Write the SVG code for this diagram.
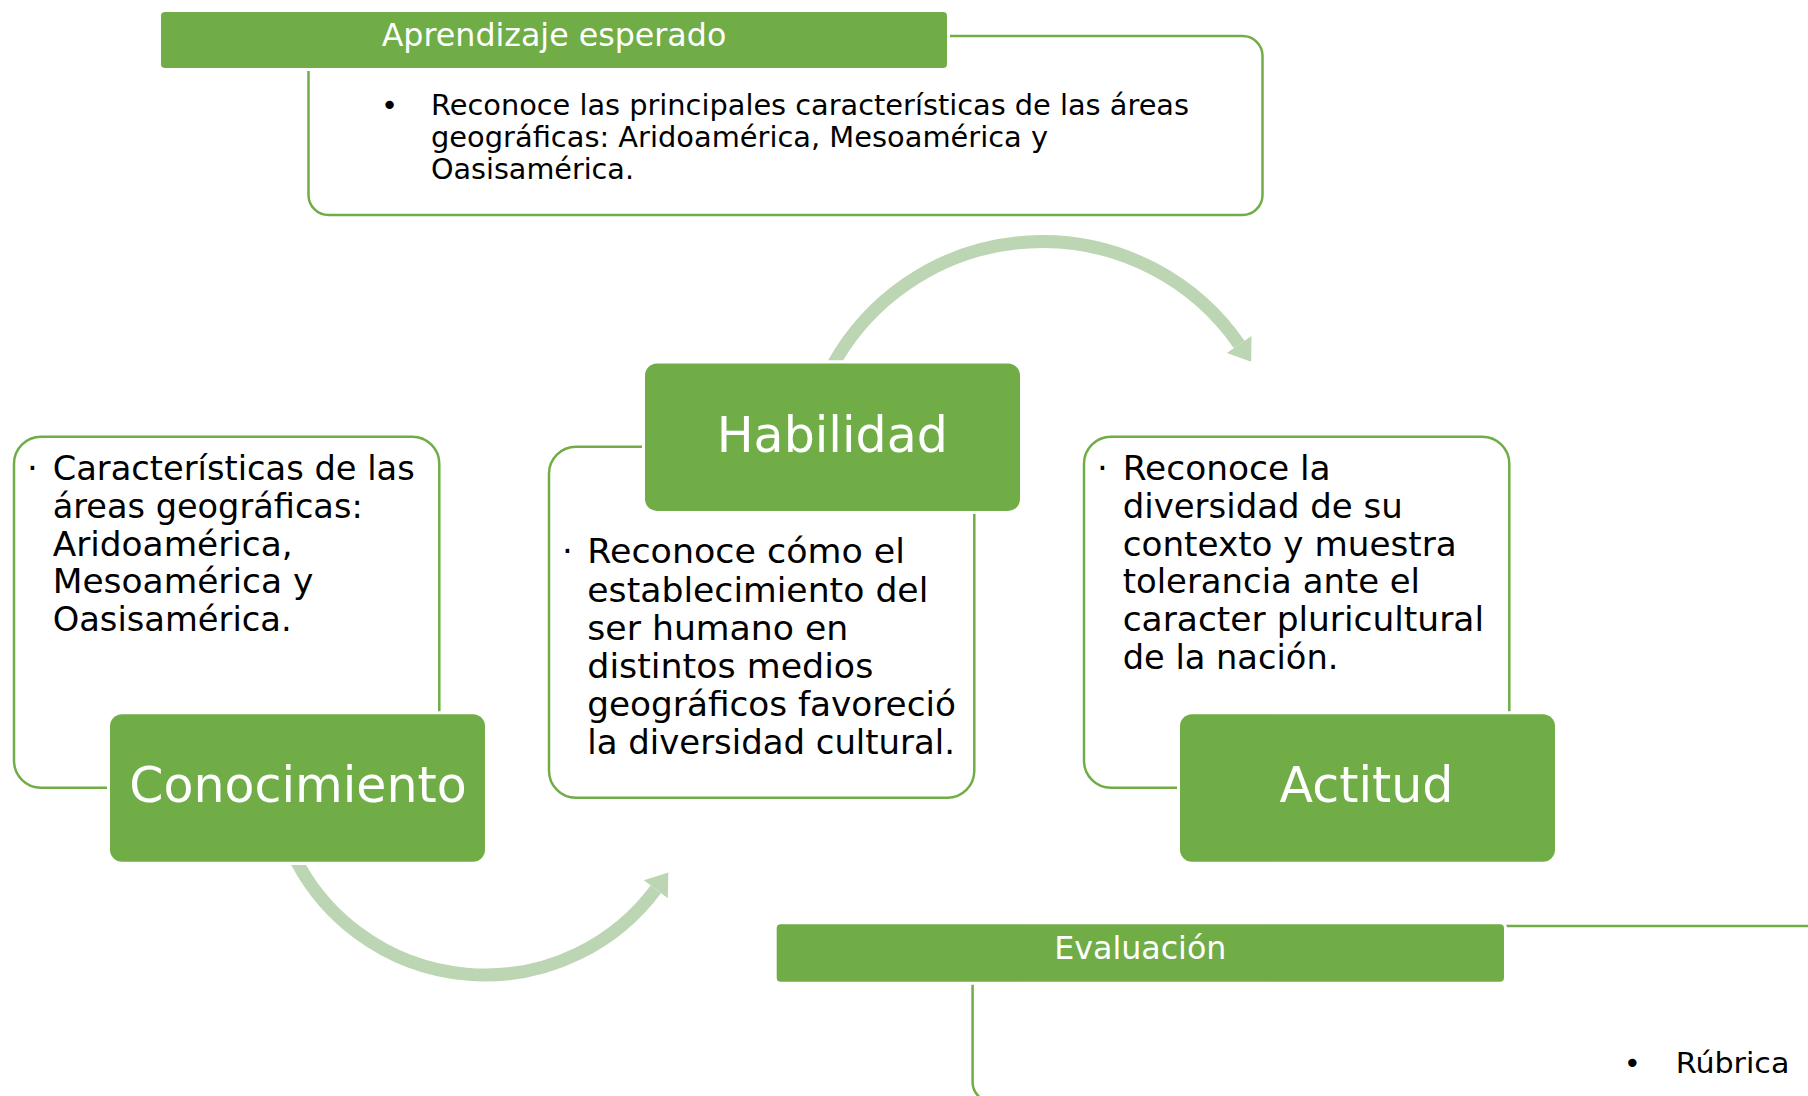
<svg xmlns="http://www.w3.org/2000/svg" width="1808" height="1096" viewBox="0 0 1808 1096">
  <style>
    .body { fill: #FFFFFF; stroke: #70AD47; stroke-width: 2.5; }
    .head { fill: #70AD47; stroke: #FFFFFF; stroke-width: 6; paint-order: stroke; }
    .arc { fill: none; stroke: #BCD5B3; stroke-width: 13; stroke-linecap: butt; }
    .tip { fill: #BCD5B3; }
    .t { font-family: "DejaVu Sans", "Liberation Sans", sans-serif; fill: #000000; }
    .w { font-family: "DejaVu Sans", "Liberation Sans", sans-serif; fill: #FFFFFF; font-weight: 400; text-anchor: middle; }
    .bl { font-size: 34px; }
    .bul { text-anchor: middle; }
  </style>
  <defs>
    <clipPath id="clipTop"><rect x="700" y="150" width="700" height="210.5"/></clipPath>
    <clipPath id="clipBot"><rect x="200" y="865" width="600" height="200"/></clipPath>
  </defs>
  <rect width="1808" height="1096" fill="#FFFFFF"/>

  <g id="connectors">
    <path class="arc" clip-path="url(#clipTop)" d="M 831.3 368 A 239.5 239.5 0 0 1 1239.2 344.5"/>
    <polygon class="tip" points="1226.9,353.1 1251.5,335.9 1251.2,361.8"/>
    <path class="arc" clip-path="url(#clipBot)" d="M 294.4 857 A 213 213 0 0 0 655.8 889.3"/>
    <polygon class="tip" points="643.8,880.3 667.8,898.3 668.3,872.5"/>
  </g>

  <g id="aprendizaje">
    <rect class="body" x="308.5" y="36" width="954" height="179" rx="20"/>
    <rect class="head" x="161" y="12" width="786" height="56" rx="4"/>
    <text class="w" x="554" y="45.5" font-size="31.7">Aprendizaje esperado</text>
    <text class="t bul" x="389.5" y="115" font-size="29">•</text>
    <text class="t" font-size="28.7">
      <tspan x="431" y="115" textLength="758" lengthAdjust="spacingAndGlyphs">Reconoce las principales características de las áreas</tspan>
      <tspan x="431" y="147" textLength="617" lengthAdjust="spacingAndGlyphs">geográficas: Aridoamérica, Mesoamérica y</tspan>
      <tspan x="431" y="179" textLength="203" lengthAdjust="spacingAndGlyphs">Oasisamérica.</tspan>
    </text>
  </g>

  <g id="conocimiento">
    <rect class="body" x="14" y="436.7" width="425.3" height="351" rx="27"/>
    <text class="t bl bul" x="32.3" y="480">·</text>
    <text class="t bl">
      <tspan x="52.7" y="480" textLength="362" lengthAdjust="spacingAndGlyphs">Características de las</tspan>
      <tspan x="52.7" y="517.8" textLength="310" lengthAdjust="spacingAndGlyphs">áreas geográficas:</tspan>
      <tspan x="52.7" y="555.6" textLength="240" lengthAdjust="spacingAndGlyphs">Aridoamérica,</tspan>
      <tspan x="52.7" y="593.4" textLength="260.7" lengthAdjust="spacingAndGlyphs">Mesoamérica y</tspan>
      <tspan x="52.7" y="631.2" textLength="239" lengthAdjust="spacingAndGlyphs">Oasisamérica.</tspan>
    </text>
    <rect class="head" x="110" y="714.3" width="375" height="147.4" rx="12"/>
    <text class="w" x="298" y="801.7" font-size="49">Conocimiento</text>
  </g>

  <g id="habilidad">
    <rect class="body" x="549" y="446.7" width="425.3" height="351" rx="27"/>
    <text class="t bl bul" x="567.3" y="563.3">·</text>
    <text class="t bl">
      <tspan x="587.3" y="563.3" textLength="317.7" lengthAdjust="spacingAndGlyphs">Reconoce cómo el</tspan>
      <tspan x="587.3" y="601.5" textLength="341" lengthAdjust="spacingAndGlyphs">establecimiento del</tspan>
      <tspan x="587.3" y="639.7" textLength="261" lengthAdjust="spacingAndGlyphs">ser humano en</tspan>
      <tspan x="587.3" y="677.9" textLength="286" lengthAdjust="spacingAndGlyphs">distintos medios</tspan>
      <tspan x="587.3" y="716.1" textLength="368.7" lengthAdjust="spacingAndGlyphs">geográficos favoreció</tspan>
      <tspan x="587.3" y="754.3" textLength="367.7" lengthAdjust="spacingAndGlyphs">la diversidad cultural.</tspan>
    </text>
    <rect class="head" x="645" y="363.5" width="375" height="147.4" rx="12"/>
    <text class="w" x="832.3" y="451.7" font-size="49">Habilidad</text>
  </g>

  <g id="actitud">
    <rect class="body" x="1084" y="436.7" width="425.3" height="351" rx="27"/>
    <text class="t bl bul" x="1102.3" y="480">·</text>
    <text class="t bl">
      <tspan x="1122.7" y="480" textLength="208" lengthAdjust="spacingAndGlyphs">Reconoce la</tspan>
      <tspan x="1122.7" y="517.8" textLength="280" lengthAdjust="spacingAndGlyphs">diversidad de su</tspan>
      <tspan x="1122.7" y="555.6" textLength="334" lengthAdjust="spacingAndGlyphs">contexto y muestra</tspan>
      <tspan x="1122.7" y="593.4" textLength="297.3" lengthAdjust="spacingAndGlyphs">tolerancia ante el</tspan>
      <tspan x="1122.7" y="631.2" textLength="361.3" lengthAdjust="spacingAndGlyphs">caracter pluricultural</tspan>
      <tspan x="1122.7" y="669" textLength="215.7" lengthAdjust="spacingAndGlyphs">de la nación.</tspan>
    </text>
    <rect class="head" x="1180" y="714.3" width="375" height="147.4" rx="12"/>
    <text class="w" x="1366.5" y="801.7" font-size="49">Actitud</text>
  </g>

  <g id="evaluacion">
    <rect class="body" x="972.6" y="926" width="1000" height="176" rx="20"/>
    <rect class="head" x="776.7" y="924.3" width="727.3" height="57.4" rx="4"/>
    <text class="w" x="1140.3" y="959.3" font-size="31.7">Evaluación</text>
    <text class="t bul" x="1632.3" y="1073" font-size="29">•</text>
    <text class="t" x="1675.8" y="1073" font-size="29" textLength="113.6" lengthAdjust="spacingAndGlyphs">Rúbrica</text>
  </g>
</svg>
